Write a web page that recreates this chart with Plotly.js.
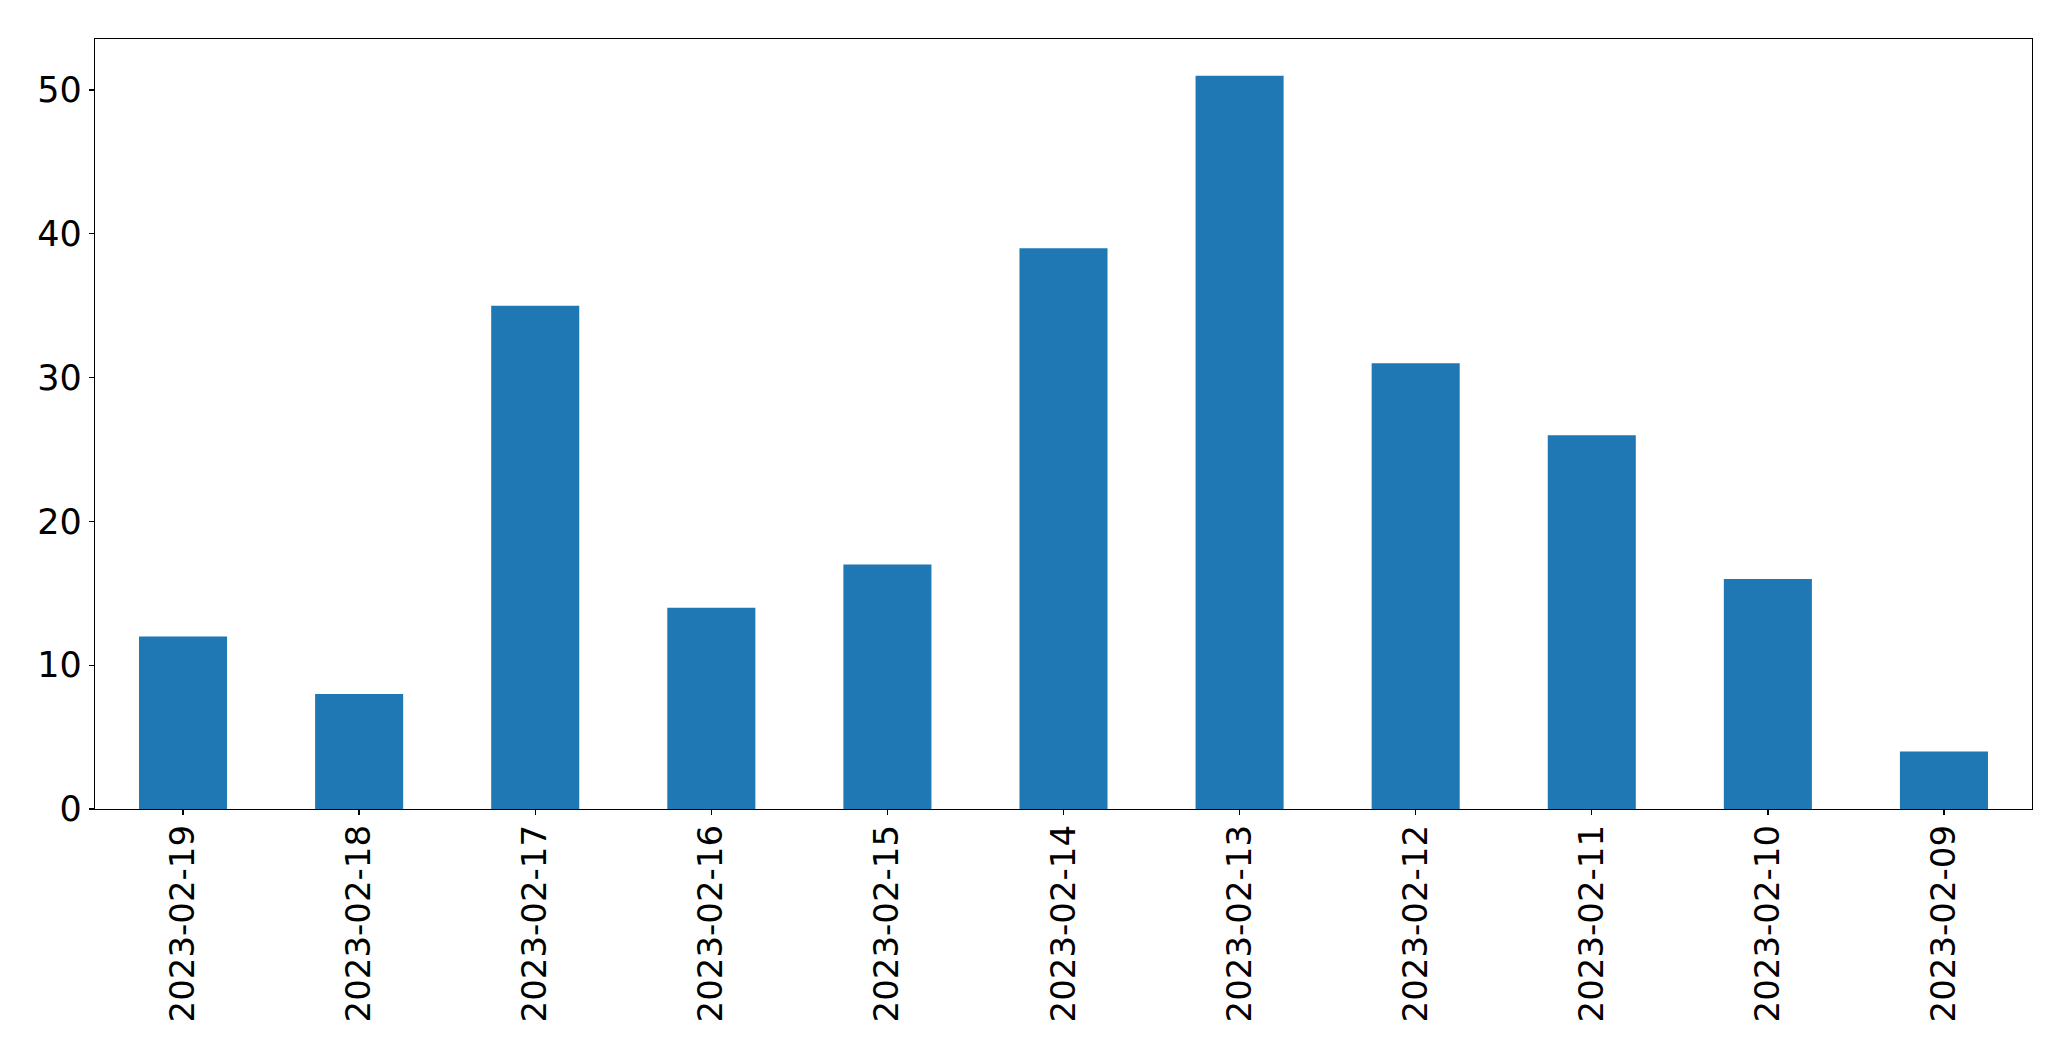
<!DOCTYPE html>
<html>
<head>
<meta charset="utf-8">
<script src="https://cdn.plot.ly/plotly-3.0.1.min.js"></script>
<style>html,body{margin:0;padding:0;background:#fff;}</style>
</head>
<body>
<div id="chart" style="width:2071px;height:1061px;"></div>
<script>
const dates = ["2023-02-19","2023-02-18","2023-02-17","2023-02-16","2023-02-15","2023-02-14","2023-02-13","2023-02-12","2023-02-11","2023-02-10","2023-02-09"];
const counts = [12, 8, 35, 14, 17, 39, 51, 31, 26, 16, 4];
const yTicks = [0, 10, 20, 30, 40, 50];

const xFont = {family: "DejaVu Sans", size: 34, color: "#000"};
const yFont = {family: "DejaVu Sans", size: 35, color: "#000"};
Plotly.newPlot("chart", [{
  type: "bar",
  x: dates,
  y: counts,
  width: 0.5,
  marker: {color: "#1f77b4", line: {width: 0}},
  hoverinfo: "x+y"
}], {
  width: 2071, height: 1061,
  margin: {l: 95, r: 39, t: 39, b: 252, pad: 0},
  paper_bgcolor: "#fff", plot_bgcolor: "#fff",
  showlegend: false,
  font: xFont,
  xaxis: {
    type: "category", range: [-0.5, 10.5],
    showline: true, mirror: true, linecolor: "#000", linewidth: 1.3,
    ticks: "outside", ticklen: 5, tickwidth: 1.3, tickcolor: "#000",
    tickangle: -90, showgrid: false, zeroline: false, tickfont: xFont,
    ticklabelstandoff: -4,
    automargin: false
  },
  yaxis: {
    range: [0, 53.55], tickvals: yTicks,
    showline: true, mirror: true, linecolor: "#000", linewidth: 1.3,
    ticks: "outside", ticklen: 5, tickwidth: 1.3, tickcolor: "#000",
    showgrid: false, zeroline: false, tickfont: yFont,
    automargin: false
  }
}, {displayModeBar: false, staticPlot: true});
</script>
</body>
</html>
